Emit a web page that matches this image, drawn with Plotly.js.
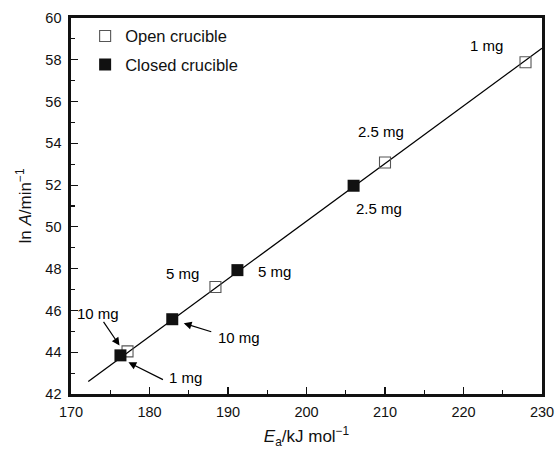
<!DOCTYPE html>
<html>
<head>
<meta charset="utf-8">
<script src="https://cdn.plot.ly/plotly-3.0.1.min.js"></script>
<style>
  html, body { margin: 0; padding: 0; background: #fff; }
  #chart { width: 555px; height: 449px; }
</style>
</head>
<body>
<div id="chart"></div>
<script>
// Activation energy vs. pre-exponential factor (kinetic compensation)
const openMass   = ['1 mg', '2.5 mg', '5 mg', '10 mg'];
const openEa     = [227.9, 210.0, 188.4, 177.2];
const openLnA    = [57.88, 53.08, 47.12, 44.04];

const closedMass = ['2.5 mg', '5 mg', '10 mg', '1 mg'];
const closedEa   = [206.0, 191.2, 182.9, 176.3];
const closedLnA  = [51.97, 47.93, 45.58, 43.85];

// compensation line end points
const fitEa  = [172.2, 230.0];
const fitLnA = [42.6, 58.55];

const xTicks = [170, 180, 190, 200, 210, 220, 230];
const yTicks = [42, 44, 46, 48, 50, 52, 54, 56, 58, 60];

const FONT = 'Liberation Sans, Arial, Helvetica, sans-serif';

const traces = [
  {
    x: fitEa, y: fitLnA, mode: 'lines', showlegend: false, hoverinfo: 'skip',
    line: { color: '#000', width: 1.3 }
  },
  {
    x: openEa, y: openLnA, mode: 'markers', name: 'Open crucible',
    legendgroup: 'a', text: openMass,
    marker: { symbol: 'square-open', size: 11, color: '#555', line: { width: 1.1, color: '#555' } }
  },
  {
    x: closedEa, y: closedLnA, mode: 'markers', name: 'Closed crucible',
    legendgroup: 'b', text: closedMass,
    marker: { symbol: 'square', size: 12, color: '#111', line: { width: 0 } }
  }
];

// text labels placed next to their points (pixel offsets)
const labelShift = {
  open:   { '1 mg': [-39, 17], '2.5 mg': [-4, 31], '5 mg': [-33, 14], '10 mg': [-30, 38] },
  closed: { '2.5 mg': [25, -23], '5 mg': [37, -1], '10 mg': [67, -18], '1 mg': [65, -22] }
};

const annotations = [];
function addLabels(xs, ys, names, shifts) {
  names.forEach((n, i) => {
    const s = shifts[n];
    annotations.push({
      x: xs[i], y: ys[i], xref: 'x', yref: 'y', text: n, showarrow: false,
      xshift: s[0], yshift: s[1], font: { family: FONT, size: 15, color: '#000' }
    });
  });
}
addLabels(openEa, openLnA, openMass, labelShift.open);
addLabels(closedEa, closedLnA, closedMass, labelShift.closed);

// pointer arrows: head shifted from the point, tail given relative to the head
function addArrow(x, y, hx, hy, ax, ay) {
  annotations.push({
    x: x, y: y, xref: 'x', yref: 'y', text: '', showarrow: true,
    xshift: hx, yshift: hy, ax: ax, ay: ay,
    arrowhead: 2, arrowsize: 1.3, arrowwidth: 1.2, arrowcolor: '#000', standoff: 0
  });
}
addArrow(openEa[3], openLnA[3], -8, 6, -17, -25);        // 10 mg, open
addArrow(closedEa[3], closedLnA[3], 8, -7, 36, 18);      // 1 mg, closed
addArrow(closedEa[2], closedLnA[2], 11.5, -4, 29, 9);    // 10 mg, closed

const axisCommon = {
  showline: true, linewidth: 2.6, linecolor: '#111', mirror: true,
  ticks: 'inside', ticklen: 7, tickwidth: 1.2, tickcolor: '#111',
  showgrid: false, zeroline: false, ticklabeloverflow: 'allow',
  tickfont: { family: FONT, size: 14.5, color: '#111' }
};

const layout = {
  width: 555, height: 449,
  margin: { l: 71, r: 13, t: 18, b: 55 },
  paper_bgcolor: '#fff', plot_bgcolor: '#fff',
  font: { family: FONT, size: 15, color: '#111' },
  xaxis: Object.assign({}, axisCommon, {
    range: [170, 230], tickmode: 'array', tickvals: xTicks,
    ticklabelstandoff: 3,
    minor: { dtick: 5, ticks: 'inside', ticklen: 4, tickwidth: 1.2, tickcolor: '#111' },
    title: { text: '<i>E</i><sub>a</sub>/kJ mol<sup>\u22121</sup>', font: { family: FONT, size: 17, color: '#111' }, standoff: 12 }
  }),
  yaxis: Object.assign({}, axisCommon, {
    range: [42, 60], tickmode: 'array', tickvals: yTicks,
    ticklabelstandoff: 4,
    minor: { dtick: 1, ticks: 'inside', ticklen: 4, tickwidth: 1.2, tickcolor: '#111' },
    title: { text: 'ln <i>A</i>/min<sup>\u22121</sup>', font: { family: FONT, size: 17, color: '#111' }, standoff: 10 }
  }),
  legend: {
    x: 0.03, y: 0.998, xanchor: 'left', yanchor: 'top',
    bgcolor: 'rgba(0,0,0,0)', font: { family: FONT, size: 16.5, color: '#111' },
    traceorder: 'grouped', tracegroupgap: 4, itemwidth: 30
  },
  annotations: annotations,
  showlegend: true
};

Plotly.newPlot('chart', traces, layout, { displayModeBar: false, staticPlot: true });
</script>
</body>
</html>
